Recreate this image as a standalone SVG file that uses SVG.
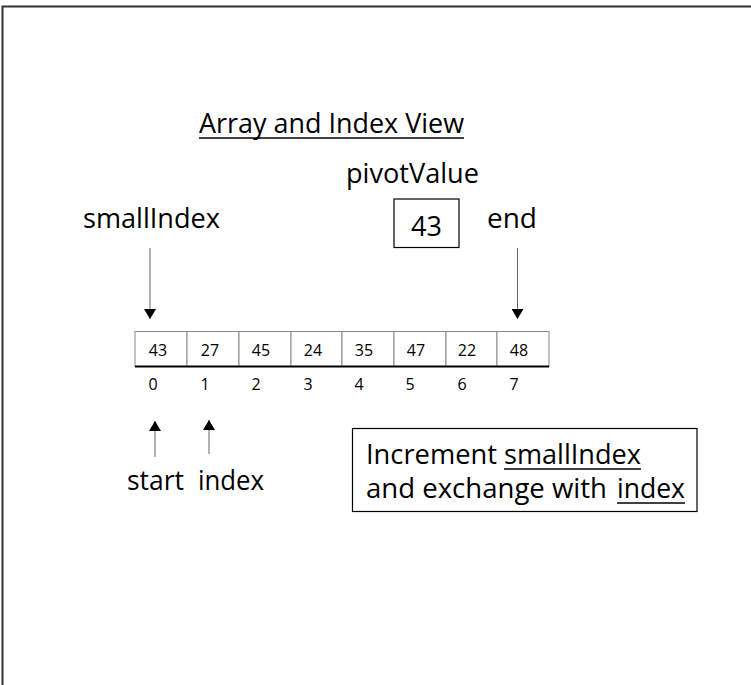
<svg xmlns="http://www.w3.org/2000/svg" width="751" height="685" viewBox="0 0 751 685">
<style>
  .t { font-family: "Open Sans", "Noto Sans", sans-serif; fill: #000; }
  .big { font-size: 27px; }
  .num { font-size: 16px; text-anchor: middle; }
  .cell { fill: #fff; stroke: #888; stroke-width: 1; }
  .conn { stroke: #666; stroke-width: 1; fill: none; }
  .ul { stroke: #000; stroke-width: 1.5; }
</style>
<defs>
  <marker id="ah" viewBox="0 0 10 12" refX="10" refY="6" markerWidth="10" markerHeight="12" markerUnits="userSpaceOnUse" orient="auto">
    <path d="M0,0 L10,6 L0,12 Z" fill="#000"/>
  </marker>
</defs>
<rect width="751" height="685" fill="#fff"/>
<path d="M2.5,685 L2.5,6.5 L751,6.5" fill="none" stroke="#333" stroke-width="2"/>

<g id="title">
  <text class="t big" x="199" y="133" textLength="265" lengthAdjust="spacingAndGlyphs">Array and Index View</text>
  <line class="ul" x1="199" y1="138" x2="464" y2="138"/>
</g>

<g id="pivotValue">
  <text class="t big" x="346" y="183" textLength="133" lengthAdjust="spacingAndGlyphs">pivotValue</text>
  <rect x="394" y="199" width="65" height="48.5" fill="#fff" stroke="#000" stroke-width="1.2"/>
  <text class="t big" x="426.5" y="236" text-anchor="middle">43</text>
</g>

<g id="smallIndex">
  <text class="t big" x="83" y="228" textLength="137" lengthAdjust="spacingAndGlyphs">smallIndex</text>
</g>
<g id="end">
  <text class="t big" x="487" y="228" textLength="50" lengthAdjust="spacingAndGlyphs">end</text>
</g>

<g id="array">
  <rect class="cell" x="135" y="331.5" width="52" height="35"/>
  <rect class="cell" x="187" y="331.5" width="52" height="35"/>
  <rect class="cell" x="239" y="331.5" width="52" height="35"/>
  <rect class="cell" x="291" y="331.5" width="51" height="35"/>
  <rect class="cell" x="342" y="331.5" width="52" height="35"/>
  <rect class="cell" x="394" y="331.5" width="52" height="35"/>
  <rect class="cell" x="446" y="331.5" width="51" height="35"/>
  <rect class="cell" x="497" y="331.5" width="52" height="35"/>
  <line x1="135" y1="366.5" x2="549" y2="366.5" stroke="#000" stroke-width="2"/>
  <text class="t num" x="158" y="356">43</text>
  <text class="t num" x="210" y="356">27</text>
  <text class="t num" x="261" y="356">45</text>
  <text class="t num" x="313" y="356">24</text>
  <text class="t num" x="364" y="356">35</text>
  <text class="t num" x="416" y="356">47</text>
  <text class="t num" x="467" y="356">22</text>
  <text class="t num" x="519" y="356">48</text>
  <text class="t num" x="153" y="390">0</text>
  <text class="t num" x="205" y="390">1</text>
  <text class="t num" x="256" y="390">2</text>
  <text class="t num" x="308" y="390">3</text>
  <text class="t num" x="359" y="390">4</text>
  <text class="t num" x="410" y="390">5</text>
  <text class="t num" x="462" y="390">6</text>
  <text class="t num" x="514" y="390">7</text>
</g>

<g id="start">
  <text class="t big" x="127" y="490" textLength="57" lengthAdjust="spacingAndGlyphs">start</text>
</g>
<g id="index">
  <text class="t big" x="198" y="490" textLength="66" lengthAdjust="spacingAndGlyphs">index</text>
</g>

<g id="note">
  <rect x="352.5" y="428.5" width="344.5" height="83" fill="#fff" stroke="#000" stroke-width="1.2"/>
  <text class="t big" x="366" y="464" textLength="131" lengthAdjust="spacingAndGlyphs">Increment</text>
  <text class="t big" x="504" y="464" textLength="137" lengthAdjust="spacingAndGlyphs">smallIndex</text>
  <line class="ul" x1="504" y1="469" x2="641" y2="469"/>
  <text class="t big" x="366" y="498" textLength="241" lengthAdjust="spacingAndGlyphs">and exchange with</text>
  <text class="t big" x="617" y="498" textLength="68" lengthAdjust="spacingAndGlyphs">index</text>
  <line class="ul" x1="617" y1="503" x2="685" y2="503"/>
</g>

<g id="connectors">
  <line class="conn" x1="150" y1="248" x2="150" y2="319" marker-end="url(#ah)"/>
  <line class="conn" x1="517.5" y1="248" x2="517.5" y2="319" stroke="#aaa" marker-end="url(#ah)"/>
  <line class="conn" x1="155" y1="457" x2="155" y2="421" marker-end="url(#ah)"/>
  <line class="conn" x1="209" y1="454" x2="209" y2="420" marker-end="url(#ah)"/>
</g>
</svg>
